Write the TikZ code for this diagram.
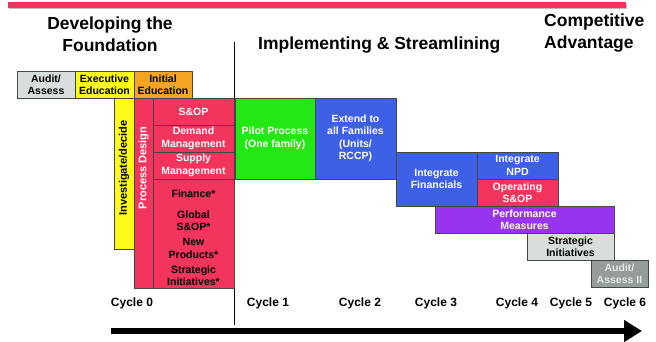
\documentclass[tikz,border=0pt]{standalone}
\usepackage{fontspec}
\setmainfont{Liberation Sans}
\usetikzlibrary{arrows.meta}

\definecolor{barred}{RGB}{240,50,92}
\definecolor{sopred}{RGB}{243,52,92}
\definecolor{eduyellow}{RGB}{252,250,25}
\definecolor{eduorange}{RGB}{245,165,35}
\definecolor{lightgrey}{RGB}{216,222,222}
\definecolor{darkgrey}{RGB}{148,156,156}
\definecolor{pilotgreen}{RGB}{35,232,20}
\definecolor{stepblue}{RGB}{62,96,230}
\definecolor{measpurple}{RGB}{152,52,240}
\definecolor{boxline}{RGB}{70,70,70}
\definecolor{paletext}{RGB}{228,232,232}

\newcommand{\boxfont}{\bfseries\fontsize{10.5}{12.5}\selectfont}
\newcommand{\headfont}{\bfseries\fontsize{17.5}{22}\selectfont}
\newcommand{\cyclefont}{\bfseries\fontsize{12}{14}\selectfont}

\begin{document}
\begin{tikzpicture}[x=1pt,y=-1pt,
  box/.style={draw=boxline, line width=0.8pt, inner sep=0pt, outer sep=0pt,
    align=center, font=\boxfont, text=black, anchor=north west},
  whitetext/.style={text=white},
  head/.style={font=\headfont, align=center, inner sep=0pt},
  cyclelabel/.style={font=\cyclefont, inner sep=0pt},
  sidelabel/.style={font=\bfseries\fontsize{11}{13}\selectfont, rotate=90, inner sep=0pt}]
\useasboundingbox (0,0) rectangle (656,341);

% banner stripe along the top
\fill[gray!55] (9,4) rectangle (627,8.5);
\fill[barred] (8,2) rectangle (626,7.5);

% phase headings
\node[head] (hdev) at (110,34) {Developing the\\Foundation};
\node[head, anchor=west] (himp) at (258,45) {Implementing \& Streamlining};
\node[head, align=left, anchor=west] (hcomp) at (544,33.5) {Competitive\\Advantage};

% divider between the foundation phase and the rest
\coordinate (divTop) at (234,42);
\coordinate (divBot) at (234,325);
\draw[line width=0.9pt] (divTop) -- (divBot);

% education row
\node[box, fill=lightgrey, minimum width=58pt, minimum height=27pt] (audit) at (17,71) {Audit/\\Assess};
\node[box, fill=eduyellow, minimum width=59pt, minimum height=27pt] (exec) at (75,71) {Executive\\Education};
\node[box, fill=eduorange, minimum width=58pt, minimum height=27pt] (initial) at (134,71) {Initial\\Education};

% foundation columns
\node[box, fill=eduyellow, minimum width=20pt, minimum height=151pt] (invest) at (114,98) {};
\node[sidelabel] (investTxt) at (124,168) {Investigate/decide};
\node[box, fill=sopred, minimum width=19pt, minimum height=190pt] (procdes) at (134,98) {};
\node[sidelabel, text=white] (procTxt) at (143.5,168) {Process Design};

% process design elements
\node[box, whitetext, fill=sopred, minimum width=81pt, minimum height=27pt] (sop) at (153,98) {S\&OP};
\node[box, whitetext, fill=sopred, minimum width=81pt, minimum height=27pt] (demand) at (153,125) {Demand\\Management};
\node[box, whitetext, fill=sopred, minimum width=81pt, minimum height=27pt] (supply) at (153,152) {Supply\\Management};
\node[box, fill=sopred, minimum width=81pt, minimum height=109pt] (others) at (153,179) {};
\node[font=\boxfont, align=center, inner sep=0pt] (othersTxt) at (193.5,237.5)
  {Finance*\\[8.5pt] Global\\ S\&OP*\\[2.5pt] New\\ Products*\\[2.5pt] Strategic\\ Initiatives*};

% implementation steps
\node[box, whitetext, fill=pilotgreen, minimum width=80pt, minimum height=81pt] (pilot) at (235,98) {Pilot Process\\(One family)};
\node[box, whitetext, fill=stepblue, minimum width=81pt, minimum height=81pt] (extend) at (315,98) {Extend to\\all Families\\(Units/\\RCCP)};
\node[box, whitetext, fill=stepblue, minimum width=81pt, minimum height=54pt] (intfin) at (396,152) {Integrate\\Financials};
\node[box, whitetext, fill=stepblue, minimum width=81pt, minimum height=27pt] (npd) at (477,152) {Integrate\\NPD};
\node[box, whitetext, fill=sopred, minimum width=81pt, minimum height=27pt] (opsop) at (477,179) {Operating\\S\&OP};
\node[box, whitetext, fill=measpurple, minimum width=179pt, minimum height=27pt] (perf) at (435,206) {Performance\\Measures};
\node[box, fill=lightgrey, minimum width=87pt, minimum height=27pt] (strat) at (527,233) {Strategic\\Initiatives};
\node[box, text=paletext, fill=darkgrey, minimum width=57pt, minimum height=27pt] (audit2) at (591,260) {Audit/\\Assess II};

% cycle scale
\node[cyclelabel] (c0) at (132,303) {Cycle 0};
\node[cyclelabel] (c1) at (268,303) {Cycle 1};
\node[cyclelabel] (c2) at (360,303) {Cycle 2};
\node[cyclelabel] (c3) at (436,303) {Cycle 3};
\node[cyclelabel] (c4) at (517,303) {Cycle 4};
\node[cyclelabel] (c5) at (571,303) {Cycle 5};
\node[cyclelabel] (c6) at (625,303) {Cycle 6};

% time arrow
\coordinate (tlStart) at (111,331);
\coordinate (tlEnd) at (642,331);
\draw[line width=6pt, -{Triangle[length=18pt,width=21pt]}] (tlStart) -- (tlEnd);
\end{tikzpicture}
\end{document}
